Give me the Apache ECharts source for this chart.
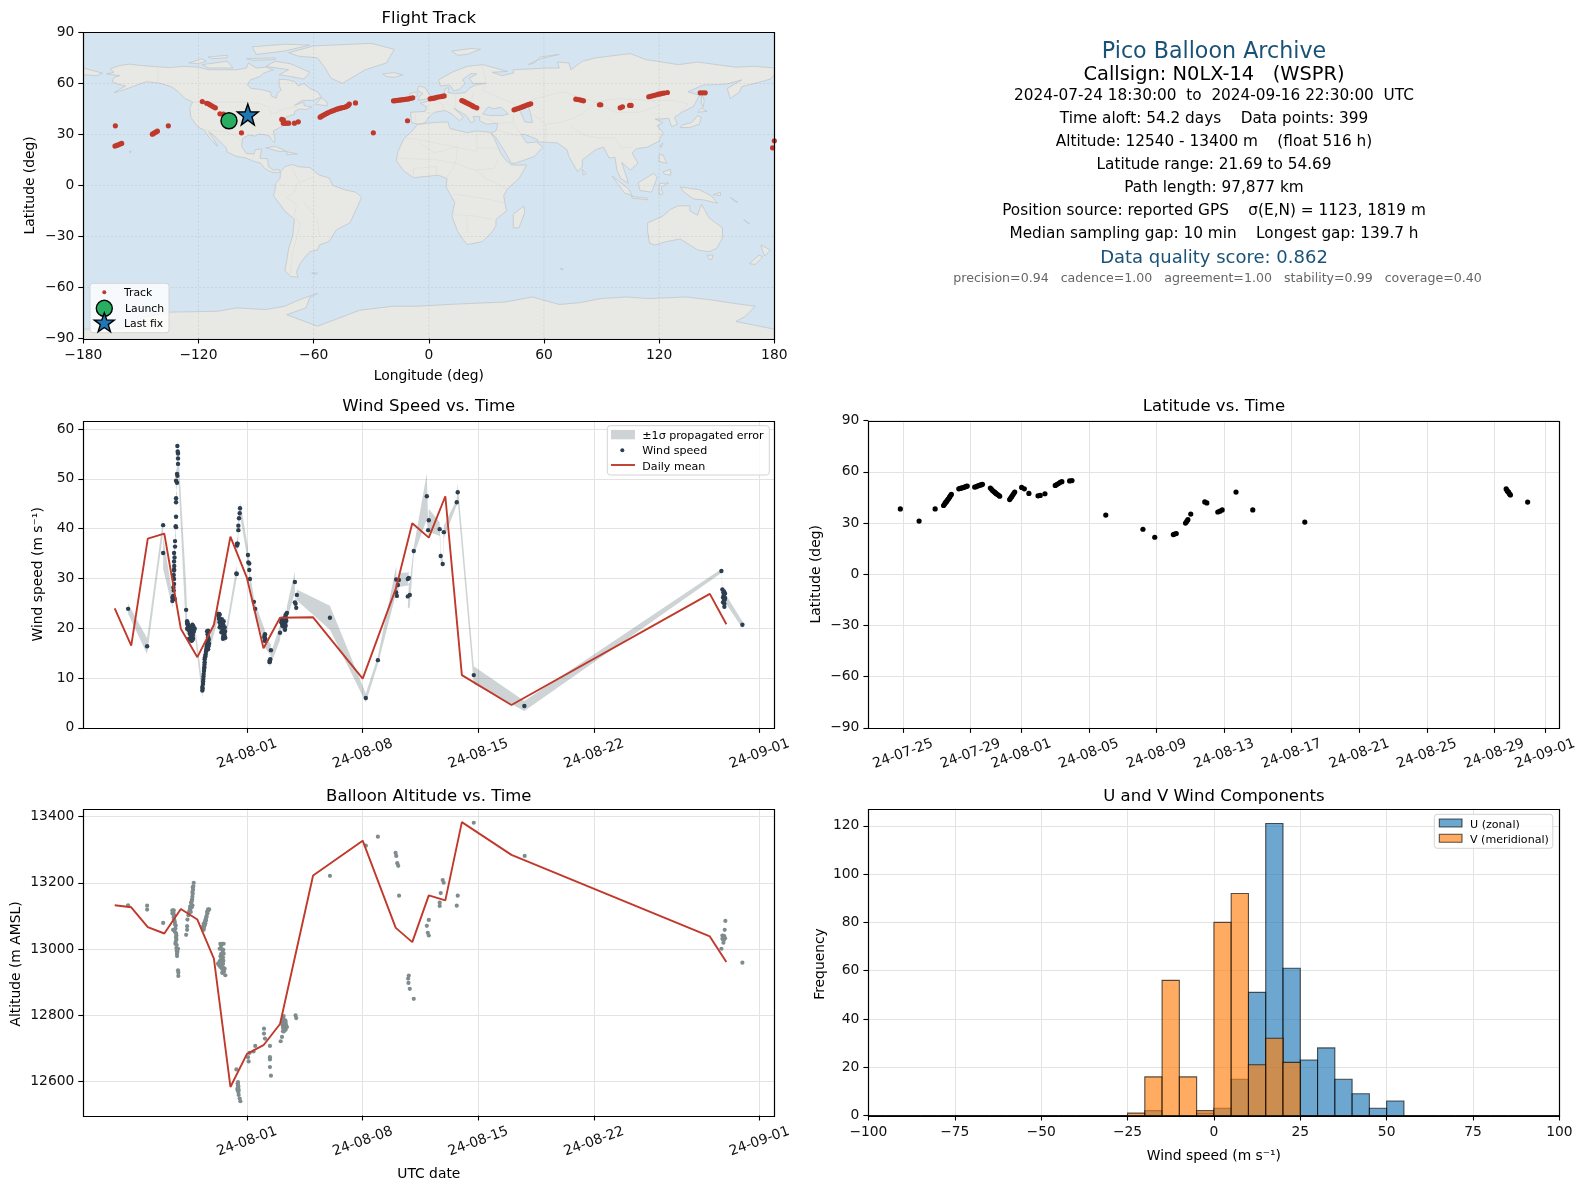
<!DOCTYPE html>
<html><head><meta charset="utf-8">
<style>html,body{margin:0;padding:0;background:#fff}#c{width:1587px;height:1189px}</style>
<script src="https://cdn.jsdelivr.net/npm/echarts@6/dist/echarts.min.js"></script>
</head><body><div id="c"></div>
<script>
// ---------- data (times in days since 2024-08-01 00:00 UTC) ----------
const trackLonLat=[[-163.3,35],[-163.5,23.1],[-162.6,23.5],[-161.7,23.9],[-160.9,24.3],[-160,24.7],[-144,30.1],[-143.2,30.7],[-142.3,31.3],[-141.4,31.9],[-135.7,35],[-118,49.3],[-115.7,48.3],[-114.8,48],[-114,47.4],[-113.1,46.8],[-112.2,46.2],[-111.2,45.6],[-108.8,42.1],[-107,41.9],[-97.6,30.9],[-76.6,38.8],[-75.8,38.6],[-75.8,36.6],[-74.9,36.6],[-74,36.6],[-73,36.6],[-70,36.6],[-68,37.4],
[-56.6,40.1],[-55.8,40.7],[-54.9,41.3],[-54,41.8],[-53.2,42.3],[-52.3,42.8],[-51.4,43.3],[-50.5,43.7],[-49.7,44],[-48.8,44.4],[-47.9,44.8],[-47,45.1],[-46.2,45.4],[-45.3,45.6],[-44.5,45.8],[-43.6,46.1],[-42.8,46.4],[-42,47],[-41.4,47.8],[-38.2,48.5],[-28.9,30.9],[-11.1,38],
[-18.4,49.7],[-17.4,49.8],[-16.4,50],[-15.4,50.1],[-14.4,50.3],[-13.4,50.4],[-12.4,50.6],[-11.4,50.7],[-10.4,50.9],[-9.4,51.2],[-8.4,51.5],[0.7,50.9],[1.7,51.1],[2.7,51.3],[3.7,51.6],[4.7,51.9],[5.8,52.1],[6.9,52.3],[8,52.6],
[17.2,49.9],[18,49.5],[18.8,49.1],[19.6,48.6],[20.4,48.2],[21.2,47.7],[22,47.2],[22.8,46.7],[23.6,46.2],[25,45.6],
[44.4,44.4],[45.4,44.8],[46.4,45.2],[47.4,45.6],[48.4,46],[49.4,46.4],[50.4,46.9],[51.4,47.3],[52.2,47.6],[53.1,48],[76.6,50.7],[77.6,50.5],[78.6,50.3],[79.6,50],[80.6,49.7],[88.9,47.4],[89.6,47.4],[99.7,45.6],[100.9,46.2],[104.6,47],[105.4,47],
[114.6,52.1],[115.6,52.4],[116.6,52.7],[117.6,53],[118.6,53.3],[119.6,53.6],[120.6,53.8],[121.6,54.1],[122.6,54.3],[124.3,54.6],[141.4,54.4],[142.7,54.4],[144,54.4],[180,26.2],[179.1,22.1]];
const launchLonLat=[[-104.1,38]];
const lastFixLonLat=[[-94.3,41.7]];

// [day, wind speed, one-sigma error]
const windPoints=[[-7.19,23.9,1],[-6.04,16.4,1.6],[-5.07,40.7,1.4],[-5.07,35.1,3.2],[-4.51,25.5,1.4],[-4.47,26.5,1.3],[-4.51,26.2,1.2],[-4.43,27.6,1.2],[-4.41,28.9,1.2],[-4.41,29.9,1.2],[-4.41,31.6,1.2],[-4.41,31.8,1.2],[-4.41,33.4,1.3],[-4.41,35.1,1.3],[-4.35,36.4,1.4],[-4.35,37.5,1.4],[-4.29,40.3,1.5],[-4.31,40.5,1.5],[-4.29,42.4,1.6],[-4.29,45.3,1.7],[-4.29,46.1,1.8],[-4.23,49.2,2],[-4.29,49.6,2],[-4.21,50.6,2],[-4.23,51,2.1],[-4.17,53,2.2],[-4.17,54.1,2.2],[-4.17,55.1,2.3],[-4.19,55.5,2.3],[-4.21,56.6,2.3],
[-3.68,23.7,5],[-3.62,21.4,2],[-3.62,20.9,1],[-3.56,20.2,1],[-3.62,19.9,1],[-3.5,19.5,1],[-3.5,17.9,1],[-3.46,18.9,1],[-3.36,20.2,1.1],[-3.36,17.5,1],[-3.36,19.2,1],[-3.3,20.7,1.2],[-3.3,18.2,1],[-3.26,19.9,1.2],[-3.26,19.2,1],[-3.26,17.9,1],[-3.16,19.9,1],
[-2.7,7.5,1.6],[-2.7,8.2,1.5],[-2.66,8.8,1.4],[-2.64,9.8,1.3],[-2.62,10.8,1.2],[-2.58,12.2,1.1],[-2.56,13.2,1],[-2.56,13.8,1],[-2.5,14.8,1.1],[-2.46,15.8,1.1],[-2.37,17.5,1.1],[-2.35,18.2,1.2],[-2.41,19.4,1.4],[-2.29,16.9,1.1],[-2.35,15.8,1.2],
[-1.75,22.9,1.1],[-1.69,21.9,1],[-1.65,22.7,1.1],[-1.65,20.2,1],[-1.61,20.9,1],[-1.55,19.2,1],[-1.49,21.2,1],[-1.49,19.9,1],[-1.45,17.9,1],[-1.41,21.4,1.1],[-1.41,18.9,1],[-1.35,20.2,1],[-1.35,18.2,1],[-1.31,18.1,1],
[-0.64,31,1.3],[-0.62,30.9,1.3],[-0.6,36.6,1.2],[-0.6,37,1.2],[-0.56,37,1.2],[-0.52,39.7,1.2],[-0.52,40.6,1.2],[-0.48,42.1,1.2],[-0.44,43.1,1.2],[-0.42,44.1,1.3],[0.06,34.7,1.6],[0.08,33.2,1.5],[0.14,33,1.4],[0.14,31.7,1.4],[0.18,29.9,1.3],[0.42,25.3,1],[0.5,23.9,1],
[1.07,18.5,1.3],[1.1,17.9,1.3],[1.07,17.5,1.3],[1.45,15.6,1.1],[1.41,13.8,1],[1.37,13.5,1],[1.37,13.2,1],[2,19.1,1.5],[2.08,21.2,1.4],[2.1,21.5,1.3],[2.14,20.5,1.3],[2.18,20.9,1.3],[2.18,21.5,1.3],[2.22,21.9,1.3],[2.28,20.9,1.3],[2.3,19.7,1.3],[2.34,22.5,1.4],[2.38,21.5,1.3],[2.42,23.1,1.4],
[2.9,29.3,2.1],[2.9,25.2,1.2],[2.94,24.9,1.2],[2.98,24.1,1.2],[3.02,26.7,1.1],[5.02,22.1,2.4],[7.19,6,0.9],[7.92,13.6,0.8],[9.03,29.8,2.7],[9.07,26.5,1.5],[9.03,27.2,1.5],[9.13,28.7,1.4],[9.19,29.7,1.4],[9.73,29.9,1.3],[9.79,30.1,1.3],[9.73,26.4,2.5],[9.85,26.7,2.5],[10.09,35.5,0.8],
[10.88,46.5,4.6],[10.96,39.7,1.3],[11,41.7,2.3],[11.66,39.9,1.4],[11.72,34.5,1],[11.84,32.9,0.7],[11.91,39.3,1.3],[12.69,45.3,0.6],[12.75,47.3,1.8],[13.72,10.6,1.8],[16.78,4.4,1],
[28.7,31.5,0.4],[28.76,27.8,0.6],[28.8,26.2,0.6],[28.82,27.2,0.8],[28.8,25.2,0.7],[28.88,24.9,0.7],[28.88,24.3,0.7],[28.92,27,0.9],[28.92,26.1,0.9],[29.97,20.7,0.7]];
// further samples inside the dense clusters (markers only)
const windClusterPoints=[[-3.58,21],[-3.55,20.6],[-3.52,20.1],[-3.48,19.8],[-3.44,20.3],[-3.42,19.6],[-3.4,18.7],[-3.38,18.2],[-3.34,19.7],[-3.32,18.8],[-3.3,19.4],[-3.28,18.6],[-3.24,20.4],[-3.22,19.4],[-3.4,17.7],[-3.32,17.6],
[-2.68,7.9],[-2.65,9.3],[-2.63,10.3],[-2.6,11.4],[-2.59,11.8],[-2.57,12.7],[-2.54,14.2],[-2.52,14.4],[-2.48,15.3],[-2.44,16.3],[-2.42,16.7],[-2.4,17.1],[-2.33,16.4],[-2.31,17.7],[-2.38,18.8],[-2.35,19.5],
[-1.72,22.5],[-1.68,22.9],[-1.66,21.2],[-1.62,21.8],[-1.6,20.2],[-1.57,20.6],[-1.52,21.8],[-1.5,20.5],[-1.47,19.3],[-1.44,20.8],[-1.4,20.1],[-1.38,19.2],[-1.36,18.7],[-1.33,19.4],[-1.43,18.4],
[2.12,21],[2.14,21.8],[2.16,20.9],[2.2,21.2],[2.2,20.4],[2.24,21.4],[2.24,20.6],[2.26,22],[2.28,21.6],[2.3,20.3],[2.32,21.1],[2.34,21.9],[2.36,22.8],[2.34,20.5],
[-4.45,28.2],[-4.43,30.7],[-4.4,32.5],[-4.38,34.2],[-4.37,25.9],[28.84,26.6],[28.86,27.4],[28.9,25.8],[28.86,25.6],[1.05,18.2],[1.09,18.8],[1.39,13.5]];
const windMeanDays=[-8,-7,-6,-5,-4,-3,-2,-1,0,1,2,4,7,9,10,11,12,13,16,28,29];
const windMeanValues=[24,16.5,38,39,19.9,14.2,20.7,38.4,30.1,16,22.1,22.2,9.9,27.9,41.1,38.2,46.5,10.6,4.6,26.9,20.8];

const latPoints=[[-7.16,38.3],[-6.05,31.2],[-5.1,38.3],[-4.6,40.3],[-4.55,41],[-4.5,41.8],[-4.45,42.4],[-4.4,43],[-4.35,43.8],[-4.3,44.4],[-4.25,45.2],[-4.2,46],[-4.14,46.8],[-3.7,50.1],[-3.62,50.3],[-3.55,50.5],[-3.48,50.7],[-3.4,50.9],[-3.32,51.3],[-3.26,51.5],[-3.2,51.7],[-2.76,51.1],[-2.68,51.3],[-2.6,51.7],[-2.52,52],[-2.44,52.2],[-2.36,52.5],[-2.3,52.7],
[-1.83,50.5],[-1.76,49.8],[-1.7,49.1],[-1.63,48.5],[-1.56,48],[-1.5,47.4],[-1.43,46.9],[-1.36,46.4],[-1.28,45.8],[-0.69,43.8],[-0.63,44.7],[-0.57,45.5],[-0.51,46.4],[-0.45,47.3],[-0.39,48.2],[0.02,50.9],[0.18,50.1],[0.45,47.4],[0.99,46],[1.12,46.2],[1.4,47.2],[2.01,52.1],[2.1,52.6],[2.2,53.2],[2.3,53.9],[2.4,54.3],[2.86,54.7],[3,54.9],
[5,34.7],[7.2,26.4],[7.9,21.7],[9,23.3],[9.08,23.6],[9.17,23.9],[9.72,30],[9.79,31],[9.86,32],[10.03,35.3],[10.86,42.4],[10.98,41.8],[11.63,36.5],[11.76,37],[11.89,37.7],[12.71,48.2],[13.7,37.7],[16.78,30.6],
[28.7,50],[28.76,49],[28.8,48.5],[28.85,48],[28.9,47],[28.95,46.5],[29.97,42.3]];

const altPoints=[[-7.19,13132],[-6.04,13131],[-6.04,13119],[-5.07,13079],[-4.51,13117],[-4.43,13117],[-4.51,13107],[-4.43,13096],[-4.37,13083],[-4.31,13071],[-4.47,13058],[-4.37,13053],[-4.27,13041],[-4.27,13029],[-4.33,13016],[-4.27,13003],[-4.17,13001],[-4.23,12986],[-4.23,12979],[-4.17,12936],[-4.15,12929],[-4.15,12919],
[-3.68,13043],[-3.62,13058],[-3.62,13069],[-3.6,13089],[-3.54,13102],[-3.5,13112],[-3.42,13122],[-3.36,13132],[-3.32,13150],[-3.28,13167],[-3.26,13179],[-3.22,13200],[-3.24,13190],[-3.3,13158],[-3.46,13118],
[-2.62,13058],[-2.7,13066],[-2.62,13076],[-2.54,13083],[-2.46,13096],[-2.41,13112],[-2.35,13120],[-2.29,13120],[-2.5,13090],[-2.58,13070],
[-1.61,13016],[-1.41,13016],[-1.65,13001],[-1.49,12986],[-1.41,12986],[-1.55,12971],[-1.65,12964],[-1.75,12956],[-1.45,12956],[-1.61,12946],[-1.35,12941],[-1.49,12928],[-1.31,12921],[-1.5,12970],[-1.55,12950],[-1.45,12975],
[-0.64,12637],[-0.54,12599],[-0.54,12589],[-0.58,12579],[-0.52,12569],[-0.44,12549],[-0.4,12541],[0.1,12661],[0.06,12674],[0.16,12687],[0.4,12691],[0.5,12708],[1.03,12760],[1.03,12745],[1.09,12730],[1.39,12708],[1.39,12674],[1.39,12667],[1.39,12644],[1.45,12618],
[2.04,12722],[2.12,12735],[2.18,12752],[2.22,12798],[2.12,12780],[2.22,12780],[2.34,12780],[2.22,12765],[2.42,12765],[2.34,12757],[2.94,12800],[2.98,12792],
[5.02,13221],[7.19,13312],[7.92,13339],[8.99,13290],[9.03,13281],[9.09,13259],[9.15,13251],[9.2,13161],[9.79,12920],[9.75,12911],[9.77,12898],[9.85,12880],[10.09,12850],[10.88,13070],[11,13088],[10.94,13049],[11,13041],[11.66,13140],[11.66,13130],[11.72,13169],[11.84,13208],[11.9,13200],[12.69,13131],[12.75,13161],[13.72,13381],[16.8,13281],
[28.7,13001],[28.82,13019],[28.76,13031],[28.84,13036],[28.92,13033],[28.76,13041],[28.9,13058],[28.94,13085],[29.97,12959],
[-4.49,13112],[-4.45,13110],[-4.41,13090],[-4.39,13102],[-4.35,13075],[-4.33,13062],[-4.29,13048],[-4.29,13036],[-4.31,13022],[-4.25,13012],[-4.25,12995],[-4.21,12992],
[-3.44,13128],[-3.38,13140],[-3.34,13144],[-3.3,13172],[-3.28,13186],[-3.3,13132],[-3.4,13112],[-3.34,13126],
[-2.6,13064],[-2.56,13072],[-2.52,13078],[-2.48,13086],[-2.44,13100],[-2.39,13108],[-2.37,13116],[-2.32,13118],
[-1.57,13010],[-1.53,13000],[-1.49,13016],[-1.43,12998],[-1.6,12978],[-1.57,12985],[-1.47,12990],[-1.43,12965],[-1.6,12952],[-1.55,12960],[-1.5,12940],[-1.45,12945],[-1.66,12958],[-1.7,12952],[-1.39,12932],[-1.47,12930],[-1.55,12978],[-1.5,12955],
[-0.56,12595],[-0.52,12585],[-0.5,12575],[-0.56,12574],[-0.5,12560],
[2.16,12770],[2.2,12790],[2.26,12775],[2.3,12770],[2.28,12760],[2.32,12785],[2.18,12762],[2.36,12772],[2.24,12752],
[28.8,13030],[28.86,13028],[28.8,13038],[28.86,13040]];
const altMeanDays=[-8,-7,-6,-5,-4,-3,-2,-1,0,1,2,4,7,9,10,11,12,13,16,28,29];
const altMeanValues=[13132,13126,13066,13047,13121,13089,12971,12584,12684,12710,12774,13222,13327,13064,13021,13162,13147,13383,13284,13038,12961];

const histEdges=[-100,-95,-90,-85,-80,-75,-70,-65,-60,-55,-50,-45,-40,-35,-30,-25,-20,-15,-10,-5,0,5,10,15,20,25,30,35,40,45,50,55,60,65,70,75,80,85,90,95];
const uCounts=[0,0,0,0,0,0,0,0,0,0,0,0,0,0,0,0,2,0,0,1,3,15,51,121,61,23,28,15,9,3,6,0,0,0,0,0,0,0,0,0];
const vCounts=[0,0,0,0,0,0,0,0,0,0,0,0,0,0,0,1,16,56,16,2,80,92,21,32,22,0,0,0,0,0,0,0,0,0,0,0,0,0,0,0];

const lonTicks=[-180,-120,-60,0,60,120,180];
const latTicks=[-90,-60,-30,0,30,60,90];
const windTicks=[0,10,20,30,40,50,60];
const altTicks=[12600,12800,13000,13200,13400];
const freqTicks=[0,20,40,60,80,100,120];
const histTicks=[-100,-75,-50,-25,0,25,50,75,100];
const weeklyDates=['2024-08-01','2024-08-08','2024-08-15','2024-08-22','2024-09-01'];
const latDates=['2024-07-25','2024-07-29','2024-08-01','2024-08-05','2024-08-09','2024-08-13','2024-08-17','2024-08-21','2024-08-25','2024-08-29','2024-09-01'];

const infoLines=['Pico Balloon Archive','Callsign: N0LX-14   (WSPR)','2024-07-24 18:30:00  to  2024-09-16 22:30:00  UTC','Time aloft: 54.2 days    Data points: 399','Altitude: 12540 - 13400 m    (float 516 h)','Latitude range: 21.69 to 54.69','Path length: 97,877 km','Position source: reported GPS    σ(E,N) = 1123, 1819 m','Median sampling gap: 10 min    Longest gap: 139.7 h','Data quality score: 0.862','precision=0.94   cadence=1.00   agreement=1.00   stability=0.99   coverage=0.40'];

// land outlines [lon, lat]
const landPolygons=[
[[-168,65.5],[-164,66.5],[-166,68.5],[-161,70.5],[-156,71.3],[-150,70.5],[-141,69.7],[-135,69.3],[-128,70],[-120,69.5],[-115,68],[-108,68],[-100,68],[-95,69],[-94,72],[-90,69],[-85,69.5],[-81,68],[-86,66],[-88,64],[-93,62],[-94.5,59],[-92.5,57],[-88,56.5],[-82.5,55],[-82,52.5],[-79.5,51.3],[-79,54],[-77,56],[-78,59],[-78,62.5],[-73,62],[-70,61],[-68,58.5],[-65,60],[-62,57],[-58,55],[-56,52],[-60,50],[-66,50],[-70,47],[-65,49],[-65,47],[-61,46],[-64,44.5],[-67,45],[-70,43.5],[-70,41.7],[-74,40.5],[-76,37],[-76,35],[-81,32],[-80,27],[-80.5,25.2],[-82,27],[-83,29],[-85,29.7],[-89,30.2],[-90,29],[-94,29.5],[-97,27.5],[-97.5,23],[-95,18.7],[-91,18.5],[-90.5,21],[-87,21.5],[-88,16],[-84,15.7],[-83.5,11],[-81,9],[-78,9.3],[-77.3,8],[-79,7.5],[-80.5,7.5],[-83,8.3],[-85.5,10],[-87.5,13],[-92,14.5],[-95,16],[-100,17],[-105,19.5],[-105.5,22],[-109,26],[-112.5,30],[-114.7,31.5],[-112,27],[-110,23],[-112,25],[-115,29],[-117,32.5],[-120.5,34.5],[-124,40],[-124.5,46],[-123,49],[-127,51],[-130,54.5],[-134,58],[-140,60],[-147,61],[-152,59],[-158,56.5],[-164,54.5],[-158,58.5],[-162,59.5],[-165,61],[-164,63.5],[-161,64.5]],
[[-73,78],[-60,82],[-30,83.5],[-18,80],[-22,72],[-33,68],[-42,62],[-45,60],[-51,63],[-54,69],[-58,75],[-68,76]],
[[-80,73],[-72,71.5],[-62,66.5],[-65,62.5],[-72,64],[-78,65],[-73,68],[-85,70]],
[[-118,71],[-105,73],[-102,69],[-115,69]],[[-90,77],[-75,79],[-62,82.5],[-75,83],[-92,81.5]],[[-125,72],[-118,74.5],[-116,73],[-120,71.5]],
[[-59,47.7],[-53,46.7],[-53,49],[-56,51.5]],[[-95,74.5],[-80,75],[-80,74],[-92,73.5]],[[-115,75.5],[-105,76.5],[-105,75],[-113,74.5]],
[[-85,22],[-80,23],[-74,20],[-78,20]],[[-74,19.8],[-68.5,18.5],[-74,18]],[[-156,20.2],[-155,20],[-155.5,19]],
[[-77.3,8],[-75,11],[-71,12.3],[-68,11],[-62,10.5],[-57,6],[-52,4.5],[-50,0],[-44,-2.5],[-38,-4],[-35,-7],[-37,-12],[-39,-17],[-41,-22],[-48,-26],[-52,-33],[-57,-35],[-58,-38],[-62,-39],[-65,-43],[-67,-46],[-69,-51],[-68,-54],[-72,-53.5],[-75,-50],[-74,-44],[-73,-37],[-71,-30],[-70,-20],[-75,-15],[-81,-6],[-80,-2.5],[-80,1],[-77.5,4]],
[[-61,-51.5],[-58,-51.5],[-59,-52.3]],
[[-180,-84.5],[-158,-84],[-150,-78],[-135,-74.5],[-110,-74],[-100,-72],[-85,-73],[-75,-71],[-67,-67],[-58,-63.5],[-62,-66],[-64,-72],[-74,-76],[-58,-82.8],[-36,-73.4],[-18.4,-71],[-5,-71],[10,-70],[30,-69],[40,-68.5],[54,-65.6],[68,-70],[78,-69],[90,-66.5],[103,-65.6],[115,-66.5],[134,-65.6],[145,-67],[160,-69.5],[170,-71],[165,-77],[160,-80],[180,-84.5],[180,-90],[-180,-90]],
[[-6,35.8],[3,37],[10,37.3],[11,33.5],[15,32.3],[20,31],[25,32],[32,31.2],[34,28],[35.5,24],[37.5,19],[40,15],[43,12],[51,12],[47,4],[41,-2],[39,-6],[40.5,-15],[35,-20],[35,-24],[32.5,-28],[28,-33],[20,-34.8],[18,-32],[15,-27],[12,-18],[13.5,-10],[9,-1],[9.5,4],[5,6],[-4,5],[-8,4.5],[-13,8.5],[-17,14.5],[-16,20],[-13,27.5],[-9.5,31]],
[[-9,37],[-9.5,43],[-2,43.5],[-1,46],[-4.5,48.3],[1,50],[4,52],[8,54],[8.5,57],[10.5,57.5],[10,54.5],[14,54],[19,54.5],[21,57],[24,59],[30,60],[23,60],[21,63],[25,65.5],[22,65.8],[17.5,62],[19,60],[16,56.5],[13,55.5],[11,59],[6,58.5],[5,62],[13,67],[20,70],[28,71],[41,67],[33,66.5],[38,64.5],[44,66],[44,68],[54,68.5],[60,69],[68,69],[67,72.5],[73,72],[74,68],[80,73],[87,75],[105,77.5],[113,74],[130,71],[140,72.5],[160,69.5],[170,70],[180,69],[180,65],[178,62.5],[170,60],[163,58],[162,55],[157,51],[155.5,57],[163,62],[155,59.5],[143,59],[135,55],[141,53],[138,46.5],[132,43],[128,40],[129.5,36],[126.5,34.5],[125,39.5],[121,39],[118,39],[122,37],[119,35],[122,31],[120,26],[114,22.5],[108,21.5],[106,19],[109,13],[105,9],[100.5,13.5],[103,5],[104,1.3],[100,4],[98,9],[97,16.5],[94,16],[91,22.5],[87,21],[80,15],[80,11],[77.5,8],[73,17],[72,21],[67,25],[57,25.5],[56.5,27],[50,30],[48,30],[51,25],[56,25.5],[59.5,22.5],[55,17],[45,13],[43,13],[39,21],[35,28],[32.5,31],[35,32],[36,36.5],[30,36],[26.5,38],[26.5,40.5],[23,40.5],[24,38],[22,36.8],[19.5,41],[13,45.5],[18,40],[16,38],[12,42],[8.5,44],[3,43],[0,40],[-2,36.8],[-5.5,36]],
[[-180,69],[-175,67.5],[-170,66],[-173,64.5],[-180,65]],
[[-5.5,50],[1.5,51.5],[0,54],[-2,57.5],[-5,58.5],[-6,56],[-3,54],[-5,52]],[[-10,52],[-6,52.5],[-6,55],[-10,54]],[[-24,65.5],[-18,66.3],[-13.5,65],[-18,63.5],[-22,64]],
[[12,79],[22,80.5],[27,80],[20,77],[15,76.5]],[[52,71],[57,74],[68,77],[58,75.5],[55,72]],[[142,54],[143.5,50],[143,46],[142,48]],
[[131,34],[136,34],[141,36],[142,40],[140,41],[137,37],[132,35.5]],[[140,43],[145,43.5],[142,45.5]],[[120.5,23.5],[122,25],[121,22]],
[[120,18],[122,18],[124,13],[120,14]],[[122,8],[126,9.5],[126,6],[123,6.5]],[[109,1.5],[117,7],[119,5],[117.5,0],[116,-4],[110,-3]],
[[95.5,5.5],[104,-2],[106,-6],[102,-4.5]],[[105.5,-6.5],[114,-7.5],[114,-8.5],[106,-7.5]],[[120,1],[125,1.5],[121,-1],[122,-5],[120,-5.5]],
[[131,-1],[141,-2.5],[147,-6],[150.5,-10.5],[143,-8.5],[138,-8],[133,-4]],
[[114,-22],[122,-18],[126,-14],[130,-12],[136,-12],[136,-15],[140,-17.5],[142,-11],[146,-19],[153,-25],[153,-31],[150,-37],[146,-39],[140,-38],[136,-35],[131,-31.5],[124,-33],[118,-35],[115,-34],[114,-27]],
[[145,-41],[148,-41],[147.5,-43.5],[146,-43.5]],[[173,-35],[178,-38],[175,-41.5],[174,-39]],[[172,-41],[174,-42],[170,-46.5],[167,-46]],
[[49.5,-12],[50,-16],[47,-25],[44,-25],[44,-17]],[[80,9.5],[82,7],[80.5,6]],[[148,-5.5],[152,-4],[152,-6]],[[157,-7],[161,-10],[159,-9]],[[164,-20],[167,-22.5],[166,-22]],[[68.5,-49],[70,-49],[69.5,-49.7]]];
const innerSeas=[[[28,42],[31,46.2],[34,45],[37.5,46],[41.5,42],[38,41],[31,41.2]],[[47,45],[52,46.5],[53,42],[54,37],[50,37.3],[49,40]]];
const borderLines=[[[-141,69.7],[-141,60]],[[-123,49],[-95,49],[-88,48],[-83,46],[-82,42],[-79,43],[-75,45],[-70,46],[-67,45]],[[-117,32.5],[-106,31.5],[-101,29.5],[-97.5,26]],[[-92,14.5],[-91,18]],[[-70,-18],[-69,-11],[-74,-7],[-70,-4],[-69,1],[-60,5]],[[-57,-30],[-58,-20],[-65,-10]],[[-70,-18],[-67,-23],[-71,-40],[-72,-52]],[[-75,0],[-78,1]],[[-72,12],[-67,1]],[[-13,27.5],[-8,27.5],[12,23],[25,20],[25,32]],[[25,22],[36,22]],[[-5,25],[3,19],[15,23]],[[15,23],[14,13],[24,9],[34,10],[36,15]],[[-16,16],[4,15],[14,13]],[[9,4],[14,13]],[[24,9],[30,4],[41,-2]],[[13,-5],[30,-8],[40,-10.5]],[[12,-17],[24,-18],[33,-20]],[[20,-28],[20,-18]],[[-8,4.5],[-8,10],[4,11],[4,6]],[[28,56],[40,50],[48,46],[55,51],[70,55],[87,49],[98,51],[116,50],[127,50],[135,48],[131,43]],[[87,49],[97,43],[110,43],[120,47],[116,50]],[[87,49],[80,42],[74,39]],[[74,35],[80,30],[88,28],[97,28],[100,22],[106,22.5]],[[61,36],[61,25]],[[44,37],[48,30]],[[36,32.5],[47,29]],[[2,51],[8,47],[7,44]],[[14,54],[14,46]],[[23,54],[22,48],[28,45]],[[-2,43],[3,42.5]],[[-7,42],[-7,37]],[[26,41],[36,36.5],[44,37],[44,41]],[[48,46],[54,42],[61,36]],[[74,39],[68,37],[61,36]],[[28,70],[30,60],[28,56]]];

// ---------- helpers ----------
const DAY=86400000, EPOCH=Date.UTC(2024,7,1);
const toTime=d=>EPOCH+d*DAY;
const dateToTime=s=>Date.parse(s+'T00:00:00Z');
const pad2=n=>String(n).padStart(2,'0');
const fmtDate=v=>{const t=new Date(v);return pad2(t.getUTCFullYear()%100)+'-'+pad2(t.getUTCMonth()+1)+'-'+pad2(t.getUTCDate());};
const minus=v=>String(v).replace('-','\u2212');
const FONT='"DejaVu Sans"';
const TICK=13.85, LEG=11.1;
const gridColor='#e3e3e3';
const BAND='rgba(80,100,105,0.28)';

const panels={
 map:{left:83.3,top:32.3,width:691,height:306.2},
 wind:{left:83.3,top:420.7,width:691,height:307.2},
 lat:{left:868.4,top:420.7,width:691,height:307.2},
 alt:{left:83.3,top:808.5,width:691,height:307},
 hist:{left:868.4,top:808.5,width:691,height:307}
};
const grids=Object.values(panels).map(p=>({...p,show:false,containLabel:false}));
grids[0].show=true;grids[0].backgroundColor='#d4e5f1';grids[0].borderWidth=0;

function yAxis(i,ticks,min,max,name,gap,split=true,namePad=0){
 return {gridIndex:i,type:'value',min,max,name,nameLocation:'middle',nameGap:gap,
  nameTextStyle:{fontSize:TICK,color:'#000',fontFamily:FONT,padding:[0,namePad,0,0]},
  axisLine:{show:false,onZero:false},
  axisTick:{show:true,length:5,customValues:ticks,lineStyle:{color:'#000',width:1.1}},
  axisLabel:{show:true,customValues:ticks,margin:9,padding:[3,0,0,0],fontSize:TICK,color:'#111',fontFamily:FONT,formatter:v=>minus(v)},
  splitLine:{show:split,lineStyle:{color:gridColor,width:1}}};
}
function numX(i,ticks,min,max,name,gap,split=true){
 return {gridIndex:i,type:'value',min,max,name,nameLocation:'middle',nameGap:gap,position:'bottom',
  nameTextStyle:{fontSize:TICK,color:'#000',fontFamily:FONT},
  axisLine:{show:false,onZero:false},
  axisTick:{show:true,length:5,customValues:ticks,lineStyle:{color:'#000',width:1.1}},
  axisLabel:{show:true,customValues:ticks,margin:10,fontSize:TICK,color:'#111',fontFamily:FONT,formatter:v=>minus(v)},
  splitLine:{show:split,lineStyle:{color:gridColor,width:1}}};
}
function timeX(i,dates,minDay,maxDay,name,gap){
 const ticks=dates.map(dateToTime);
 return {gridIndex:i,type:'value',min:toTime(minDay),max:toTime(maxDay),name,nameLocation:'middle',nameGap:gap,position:'bottom',
  nameTextStyle:{fontSize:TICK,color:'#000',fontFamily:FONT},
  axisLine:{show:false,onZero:false},
  axisTick:{show:true,length:5,customValues:ticks,lineStyle:{color:'#000',width:1.1}},
  axisLabel:{show:true,customValues:ticks,rotate:20,align:'center',verticalAlign:'middle',margin:26,hideOverlap:false,fontSize:TICK,color:'#111',fontFamily:FONT,formatter:v=>fmtDate(v)},
  splitLine:{show:true,lineStyle:{color:gridColor,width:1}}};
}
const xAxes=[numX(0,lonTicks,-180,180,'Longitude (deg)',31,false),
 timeX(1,weeklyDates,-9.9,31.9,'',0),timeX(2,latDates,-9.05,31.85,'',0),
 timeX(3,weeklyDates,-9.9,31.9,'UTC date',52),numX(4,histTicks,-100,100,'Wind speed (m s\u207B\u00B9)',34)];
const yAxes=[yAxis(0,latTicks,-90,90,'Latitude (deg)',46,false),
 yAxis(1,windTicks,0,61.67,'Wind speed (m s\u207B\u00B9)',38),
 yAxis(2,latTicks,-90,90,'Latitude (deg)',45),
 yAxis(3,altTicks,12498,13424,'Altitude (m AMSL)',60,true,4),
 yAxis(4,freqTicks,0,127.2,'Frequency',41,true,4)];

const starPath='path://M0,-10 L2.35,-3.24 L9.51,-3.09 L3.8,1.24 L5.88,8.09 L0,4 L-5.88,8.09 L-3.8,1.24 L-9.51,-3.09 L-2.35,-3.24 Z';

function polySeries(name,polys,fill,stroke,lw,z){
 return {name,type:'custom',xAxisIndex:0,yAxisIndex:0,clip:true,silent:true,z,coordinateSystem:'cartesian2d',
  data:polys.map((p,i)=>[p[0][0],p[0][1]]),
  renderItem(params,api){const pts=polys[params.dataIndex].map(p=>api.coord(p));
   return {type:'polygon',shape:{points:pts},style:{fill,stroke,lineWidth:lw}};}};
}
function lineSeries(name,lines,stroke,lw,z,dash){
 return {name,type:'custom',xAxisIndex:0,yAxisIndex:0,clip:true,silent:true,z,coordinateSystem:'cartesian2d',
  data:lines.map(l=>[l[0][0],l[0][1]]),
  renderItem(params,api){const pts=lines[params.dataIndex].map(p=>api.coord(p));
   return {type:'polyline',shape:{points:pts},style:{fill:'none',stroke,lineWidth:lw,lineDash:dash||null}};}};
}
const graticule=[...lonTicks.slice(1,-1).map(x=>[[x,-90],[x,90]]),...latTicks.slice(1,-1).map(y=>[[-180,y],[180,y]])];

function histSeries(name,counts,fill,xi,yi,z){
 return {name,type:'custom',xAxisIndex:xi,yAxisIndex:yi,z,clip:false,silent:true,
  data:counts.map((c,i)=>[histEdges[i],c]),
  renderItem(params,api){const x0=api.value(0),c=api.value(1);
   const a=api.coord([x0,c]),b=api.coord([x0+5,0]);
   return {type:'rect',shape:{x:a[0],y:a[1],width:b[0]-a[0],height:b[1]-a[1]},style:{fill,stroke:'rgba(0,0,0,0.65)',lineWidth:1.1}};}};
}
const windTime=windPoints.map(p=>[toTime(p[0]),p[1]]);
const windAll=windTime.concat(windClusterPoints.map(p=>[toTime(p[0]),p[1]]));

const series=[
 polySeries('Land',landPolygons,'#e8e8e4','#c2c7cb',0.8,1),
 polySeries('Inner seas',innerSeas,'#d4e5f1','#c2c7cb',0.8,2),
 lineSeries('Borders',borderLines,'#dededa',0.7,3),
 lineSeries('Graticule',graticule,'rgba(120,120,120,0.22)',0.7,4,[2,2]),
 {name:'Track',type:'scatter',xAxisIndex:0,yAxisIndex:0,data:trackLonLat,symbolSize:5.2,itemStyle:{color:'#c0392b',opacity:1},z:5,clip:true,silent:true},
 {name:'Launch',type:'scatter',xAxisIndex:0,yAxisIndex:0,data:launchLonLat,symbolSize:16,itemStyle:{color:'#27ae60',borderColor:'#000',borderWidth:1.4,opacity:1},z:6,silent:true},
 {name:'Last fix',type:'scatter',xAxisIndex:0,yAxisIndex:0,data:lastFixLonLat,symbol:starPath,symbolSize:21,itemStyle:{color:'#1f77b4',borderColor:'#000',borderWidth:1.4,opacity:1},z:7,silent:true},
 {name:'\u00B11\u03C3 propagated error',type:'custom',xAxisIndex:1,yAxisIndex:1,z:2,silent:true,clip:true,
  data:[[windTime[0][0],windTime[0][1]]],
  renderItem(params,api){
   const up=windPoints.map(p=>api.coord([toTime(p[0]),p[1]+p[2]]));
   const lo=windPoints.map(p=>api.coord([toTime(p[0]),p[1]-p[2]])).reverse();
   return {type:'polygon',shape:{points:up.concat(lo)},style:{fill:BAND,stroke:'none'}};}},
 {name:'Wind speed',type:'scatter',xAxisIndex:1,yAxisIndex:1,data:windAll,symbolSize:4.4,itemStyle:{color:'#2c3e50',opacity:1},z:3,silent:true},
 {name:'Daily mean',type:'line',xAxisIndex:1,yAxisIndex:1,data:windMeanDays.map((d,i)=>[toTime(d),windMeanValues[i]]),showSymbol:false,lineStyle:{color:'#c0392b',width:1.9},z:4,silent:true},
 {name:'Latitude',type:'scatter',xAxisIndex:2,yAxisIndex:2,data:latPoints.map(p=>[toTime(p[0]),p[1]]),symbolSize:5.2,itemStyle:{color:'#000',opacity:1},z:3,silent:true},
 {name:'Altitude',type:'scatter',xAxisIndex:3,yAxisIndex:3,data:altPoints.map(p=>[toTime(p[0]),p[1]]),symbolSize:4.2,itemStyle:{color:'#7f8c8d',opacity:1},z:3,silent:true},
 {name:'Altitude daily mean',type:'line',xAxisIndex:3,yAxisIndex:3,data:altMeanDays.map((d,i)=>[toTime(d),altMeanValues[i]]),showSymbol:false,lineStyle:{color:'#c0392b',width:1.9},z:4,silent:true},
 histSeries('U (zonal)',uCounts,'rgba(31,119,180,0.65)',4,4,3),
 histSeries('V (meridional)',vCounts,'rgba(255,127,14,0.65)',4,4,4)
];

// frames drawn on top of the plot
const titles=[['Flight Track',428.8,18.5],['Wind Speed vs. Time',428.8,407],['Latitude vs. Time',1213.9,407],['Balloon Altitude vs. Time',428.8,797],['U and V Wind Components',1213.9,797]];
const graphic=[];
titles.forEach(t=>graphic.push({type:'text',x:t[1],y:t[2],z:50,style:{text:t[0],font:'16.5px '+FONT,fill:'#000',textAlign:'center',textVerticalAlign:'middle'}}));
const infoY=[52,74.7,96.3,119.3,142.3,165.3,188.3,211.3,234.3,258.7,279];
const infoSize=[22.2,19.4,15.3,15.3,15.3,15.3,15.3,15.3,15.3,18,12.6];
const infoX=[1214,1214,1214,1214,1214,1214,1214,1214,1214,1214,1217.5];
const infoColor=['#1a5276','#000','#000','#000','#000','#000','#000','#000','#000','#1a5276','#666'];
infoLines.forEach((t,i)=>graphic.push({type:'text',x:infoX[i],y:infoY[i],z:50,style:{text:t,font:infoSize[i]+'px '+FONT,fill:infoColor[i],textAlign:'center',textVerticalAlign:'middle'}}));
Object.values(panels).forEach((p,i)=>{
 const x0=Math.round(p.left)+0.5,y0=Math.round(p.top)+0.5,x1=Math.round(p.left+p.width)+0.5,y1=Math.round(p.top+p.height)+0.5;
 graphic.push({type:'rect',z:40,silent:true,shape:{x:x0,y:y0,width:x1-x0,height:y1-y0},style:{fill:'none',stroke:'#000',lineWidth:1.2}});});

function legendBox(x,y,w,h){graphic.push({type:'rect',z:60,silent:true,shape:{x,y,width:w,height:h,r:3},style:{fill:'rgba(255,255,255,0.8)',stroke:'#d4d4d4',lineWidth:1}});}
function legendText(t,x,y,size){graphic.push({type:'text',z:62,x,y,style:{text:t,font:(size||LEG)+'px '+FONT,fill:'#000',textVerticalAlign:'middle'}});}
// map legend
legendBox(90,283.3,79,49.4);
graphic.push({type:'circle',z:61,shape:{cx:104.3,cy:292.3,r:2},style:{fill:'#c0392b'}});
graphic.push({type:'circle',z:61,shape:{cx:104.3,cy:308.3,r:8},style:{fill:'#27ae60',stroke:'#000',lineWidth:1.4}});
const starPts=[[0,-10],[2.35,-3.24],[9.51,-3.09],[3.8,1.24],[5.88,8.09],[0,4],[-5.88,8.09],[-3.8,1.24],[-9.51,-3.09],[-2.35,-3.24]];
graphic.push({type:'polygon',z:61,shape:{points:starPts.map(p=>[104.3+p[0]*1.05,323.3+p[1]*1.05])},style:{fill:'#1f77b4',stroke:'#000',lineWidth:1.4}});
legendText('Track',124,293,10.8);legendText('Launch',125,309,10.8);legendText('Last fix',124,324,10.8);
// wind legend
legendBox(607.3,425.7,162,49.3);
graphic.push({type:'rect',z:61,shape:{x:611,y:430,width:24,height:9.3},style:{fill:BAND}});
graphic.push({type:'circle',z:61,shape:{cx:622.3,cy:450.3,r:2},style:{fill:'#2c3e50'}});
graphic.push({type:'line',z:61,shape:{x1:611,y1:465,x2:635,y2:465},style:{stroke:'#c0392b',lineWidth:1.9}});
legendText('\u00B11\u03C3 propagated error',642.3,436);legendText('Wind speed',642.3,451);legendText('Daily mean',642.3,466.7);
// hist legend
legendBox(1434.3,814.3,118.5,34);
graphic.push({type:'rect',z:61,shape:{x:1439.3,y:819,width:22.7,height:8},style:{fill:'rgba(31,119,180,0.65)',stroke:'rgba(0,0,0,0.65)',lineWidth:1.1}});
graphic.push({type:'rect',z:61,shape:{x:1439.3,y:834.3,width:22.7,height:8},style:{fill:'rgba(255,127,14,0.65)',stroke:'rgba(0,0,0,0.65)',lineWidth:1.1}});
legendText('U (zonal)',1470,825);legendText('V (meridional)',1470,839.7);

const chart=echarts.init(document.getElementById('c'),null,{renderer:'canvas',width:1587,height:1189});
chart.setOption({animation:false,backgroundColor:'#fff',textStyle:{fontFamily:FONT},tooltip:{show:false},grid:grids,xAxis:xAxes,yAxis:yAxes,series,graphic});
</script></body></html>
